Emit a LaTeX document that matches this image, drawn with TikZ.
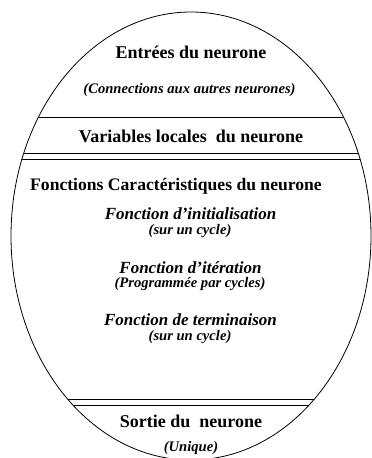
\documentclass[tikz,border=0pt]{standalone}
\usepackage{fontspec}
\setmainfont{Liberation Serif}
\begin{document}
\begin{tikzpicture}[x=1pt,y=-1pt,
  title/.style={font=\fontsize{18}{20}\selectfont\bfseries, anchor=base, inner sep=0pt},
  ftitle/.style={font=\fontsize{17}{19}\selectfont\bfseries\itshape, anchor=base, inner sep=0pt},
  sub/.style={font=\fontsize{14.6}{16}\selectfont\bfseries\itshape, anchor=base, inner sep=0pt},
  rule/.style={line width=0.8pt}]
\useasboundingbox (0,0) rectangle (372,458);
\begin{scope}
\clip (0,0) rectangle (372,458);
\draw[line width=0.8pt] (191,236) ellipse [x radius=180, y radius=224];
\begin{scope}
\clip (191,236) ellipse [x radius=180, y radius=224];
\draw[rule] (0,117) -- (372,117);
\draw[rule] (0,153) -- (372,153);
\draw[rule] (0,159) -- (372,159);
\draw[rule] (0,399) -- (372,399);
\draw[rule] (0,405) -- (372,405);
\end{scope}
\end{scope}
\node[title] (entrees) at (191,58) {Entrées du neurone};
\node[sub] (connect) at (189.5,93) {(Connections aux autres neurones)};
\node[title] (variables) at (191,142) {Variables locales \ du neurone};
\node[title, font=\fontsize{17.6}{20}\selectfont\bfseries] (fonctions) at (176,190) {Fonctions Caractéristiques du neurone};
\node[ftitle] (init) at (190.5,219) {Fonction d’initialisation};
\node[sub] (initsub) at (190,234) {(sur un cycle)};
\node[ftitle] (iter) at (190.5,273) {Fonction d’itération};
\node[sub] (itersub) at (190,287) {(Programmée par cycles)};
\node[ftitle] (term) at (190.5,325) {Fonction de terminaison};
\node[sub] (termsub) at (190,340) {(sur un cycle)};
\node[title] (sortie) at (191,427) {Sortie du \ neurone};
\node[sub] (unique) at (191,451) {(Unique)};
\end{tikzpicture}
\end{document}
